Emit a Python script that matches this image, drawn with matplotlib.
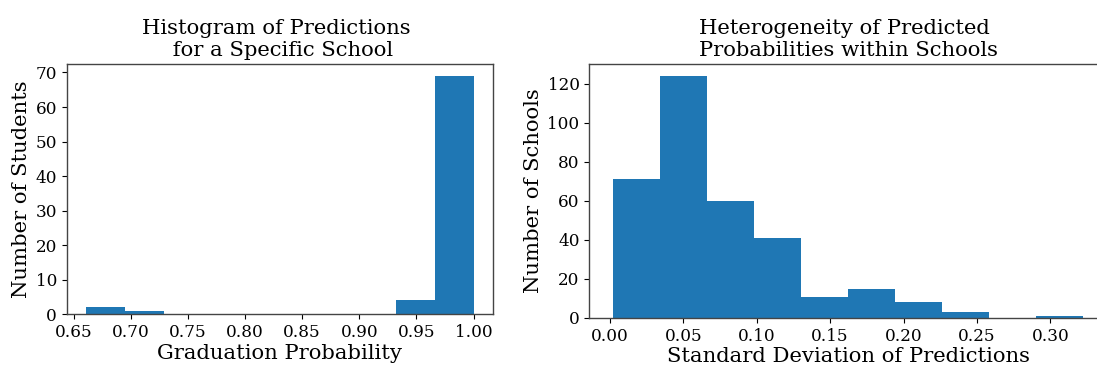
import numpy as np
import matplotlib
matplotlib.use("Agg")
import matplotlib.pyplot as plt

# ---- data ----
grad_lo, grad_hi = 0.661, 1.0
grad_counts = [2, 1, 0, 0, 0, 0, 0, 0, 4, 69]

sd_lo, sd_hi = 0.002, 0.3225
sd_counts = [71, 124, 60, 41, 11, 15, 8, 3, 0, 1]

left_xticks = [0.65, 0.70, 0.75, 0.80, 0.85, 0.90, 0.95, 1.00]
left_yticks = [0, 10, 20, 30, 40, 50, 60, 70]
right_xticks = [0.00, 0.05, 0.10, 0.15, 0.20, 0.25, 0.30]
right_yticks = [0, 20, 40, 60, 80, 100, 120]

left_title = "Histogram of Predictions \n for a Specific School"
right_title = "Heterogeneity of Predicted \nProbabilities within Schools"

plt.rcParams['font.family'] = ['DejaVu Serif']

W, H = 1097, 368
fig = plt.figure(figsize=(W / 100, H / 100), dpi=100)

def pos(x0, y0, x1, y1):
    return [x0 / W, 1 - y1 / H, (x1 - x0) / W, (y1 - y0) / H]

ax1 = fig.add_axes(pos(66.7, 64, 493, 314.3))
ax2 = fig.add_axes(pos(589.3, 64, 1107, 318))

color = '#1f77b4'
e1 = np.linspace(grad_lo, grad_hi, len(grad_counts) + 1)
ax1.hist(e1[:-1], bins=e1, weights=grad_counts, color=color)
e2 = np.linspace(sd_lo, sd_hi, len(sd_counts) + 1)
ax2.hist(e2[:-1], bins=e2, weights=sd_counts, color=color)

ax1.set_xticks(left_xticks)
ax1.set_yticks(left_yticks)
ax2.set_xticks(right_xticks)
ax2.set_yticks(right_yticks)

for ax in (ax1, ax2):
    ax.tick_params(labelsize=12.2, pad=3.5)
    for s in ax.spines.values():
        s.set_color('#444444')
        s.set_linewidth(1.0)

fs = 15.2
ax1.set_title(left_title, fontsize=fs, pad=6)
ax1.set_xlabel("Graduation Probability", fontsize=fs, labelpad=2)
ax1.set_ylabel("Number of Students", fontsize=fs, labelpad=3)
ax2.set_title(right_title, fontsize=fs, pad=6)
ax2.set_xlabel("Standard Deviation of Predictions", fontsize=fs, labelpad=2)
ax2.set_ylabel("Number of Schools", fontsize=fs, labelpad=3)

fig.savefig("out.png", dpi=100)
